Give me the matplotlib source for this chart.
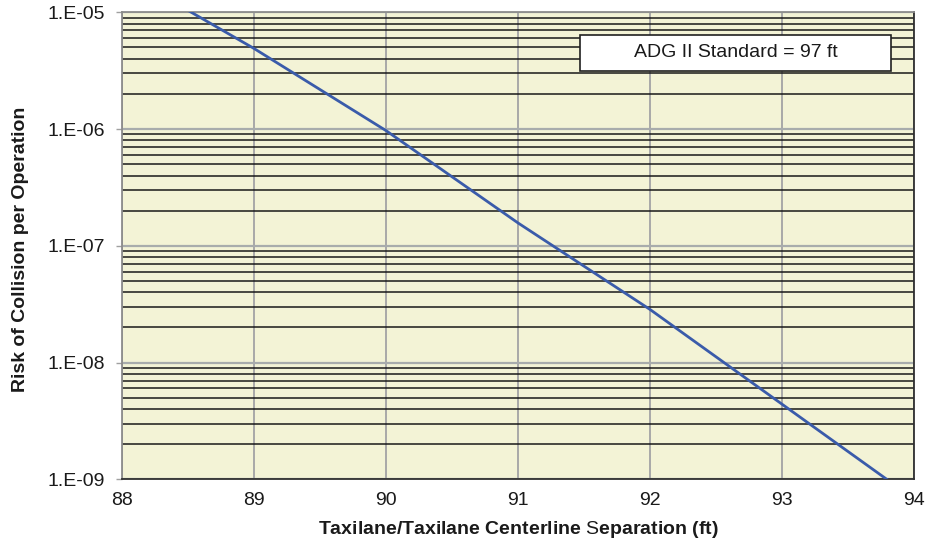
import numpy as np
import matplotlib
matplotlib.use("Agg")
import matplotlib.pyplot as plt
from matplotlib.ticker import LogLocator, FuncFormatter, FixedLocator
from matplotlib.patches import Rectangle

plt.rcParams['font.family'] = ['Liberation Sans', 'DejaVu Sans']
plt.rcParams['mathtext.fontset'] = 'custom'
plt.rcParams['mathtext.rm'] = 'Liberation Sans:normal'

# separation (ft) vs risk per operation
separation = [88, 89, 90, 91, 92, 93, 94]
risk = [2.2e-5, 4.9e-6, 9.7e-7, 1.57e-7, 2.85e-8, 4.4e-9, 6.8e-10]

x_ticks = [88, 89, 90, 91, 92, 93, 94]
y_ticks = [1e-9, 1e-8, 1e-7, 1e-6, 1e-5]
note = "ADG II Standard = 97 ft"

fig = plt.figure(figsize=(9.29, 5.54), dpi=100)
ax = fig.add_axes([0.1313, 0.1348, 0.8526, 0.843])
ax.set_facecolor('#F3F3D6')

ax.set_yscale('log')
ax.set_xlim(88, 94)
ax.set_ylim(1e-9, 1e-5)

# grid: minor horizontal black, major gray
ax.yaxis.set_major_locator(FixedLocator(y_ticks))
ax.yaxis.set_minor_locator(LogLocator(base=10, subs=np.arange(2, 10)))
ax.xaxis.set_major_locator(FixedLocator(x_ticks))
ax.grid(True, which='minor', axis='y', color='#141414', lw=1.2, alpha=0.9)
ax.grid(True, which='major', axis='y', color='#a8acac', lw=1.6)
ax.grid(True, which='major', axis='x', color='#a8a8a8', lw=1.4)
ax.set_axisbelow(True)

ax.plot(separation, risk, color='#3A5BAA', lw=2.0, clip_on=True, zorder=3)

def sci(v, pos):
    e = int(round(np.log10(v)))
    return "1.E-%02d" % (-e)

ax.yaxis.set_major_formatter(FuncFormatter(sci))
ax.yaxis.set_minor_formatter(FuncFormatter(lambda v, p: ""))
ax.tick_params(axis='y', which='major', length=4, width=1, color='#a0a0a0',
               labelsize=14, pad=8, colors='#a0a0a0', labelcolor='#1a1a1a')
ax.tick_params(axis='y', which='minor', length=0)
ax.tick_params(axis='x', length=0, labelsize=14, pad=9, labelcolor='#1a1a1a')

for side in ['left', 'top']:
    ax.spines[side].set_color('#8c8c8c')
    ax.spines[side].set_linewidth(1.3)
for side in ['right', 'bottom']:
    ax.spines[side].set_color('#303030')
    ax.spines[side].set_linewidth(1.3)

# annotation box
ax.add_patch(Rectangle((0.578, 0.875), 0.393, 0.076, transform=ax.transAxes,
                       facecolor='white', edgecolor='#202020', lw=1.2, zorder=5))
ax.text(0.775, 0.913, note, transform=ax.transAxes, ha='center', va='center',
        fontsize=14, color='#1a1a1a', zorder=6)

fig.text(0.5576, 1 - 529 / 554, r"Taxilane/Taxilane Centerline $\mathrm{S}$eparation (ft)",
         ha='center', va='center', fontsize=14, fontweight='bold', color='#1a1a1a')
fig.text(21 / 929, 1 - 249 / 554, "Risk of Collision per Operation",
         ha='center', va='center', rotation=90, fontsize=14, fontweight='bold',
         color='#1a1a1a')

fig.savefig("out.png", dpi=100)
